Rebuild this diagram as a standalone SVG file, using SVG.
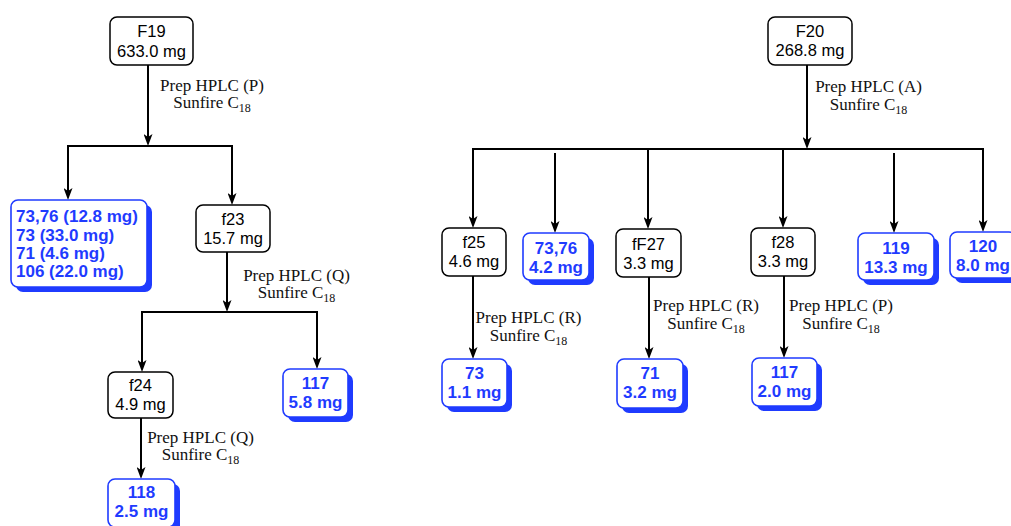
<svg xmlns="http://www.w3.org/2000/svg" width="1011" height="526" viewBox="0 0 1011 526">
<style>
  .bx { fill: #fff; stroke: #000; stroke-width: 1.5; }
  .bb { fill: #fff; stroke: #1f3bff; stroke-width: 1.6; }
  .sh { fill: #1f3bff; }
  .t { font-family: "Liberation Sans", Arial, sans-serif; font-size: 16.5px; text-anchor: middle; fill: #000; }
  .b { font-family: "Liberation Sans", Arial, sans-serif; font-size: 17px; font-weight: bold; text-anchor: middle; fill: #1f3bff; }
  .bl { text-anchor: start; }
  .lbl { font-family: "Liberation Serif", "Times New Roman", serif; font-size: 17px; text-anchor: middle; fill: #111; }
  .c line { stroke: #000; stroke-width: 2; fill: none; }
  .c line.a { marker-end: url(#ah); }
  .c line.h { stroke-linecap: square; }
</style>
<defs>
  <marker id="ah" viewBox="0 0 12 9" refX="4" refY="4.5" markerWidth="12" markerHeight="9" markerUnits="userSpaceOnUse" orient="auto">
    <path d="M0,0 L12,4.5 L0,9 L3,4.5 Z" fill="#000"/>
  </marker>
</defs>
<rect width="1011" height="526" fill="#fff"/>

<g id="connectors" class="c">
  <!-- left tree -->
  <line class="a" x1="148" y1="65" x2="148" y2="138"/>
  <line class="h" x1="68" y1="146" x2="232" y2="146"/>
  <line class="a" x1="68" y1="146" x2="68" y2="192"/>
  <line class="a" x1="232" y1="146" x2="232" y2="197"/>
  <line class="a" x1="227" y1="252" x2="227" y2="304"/>
  <line class="h" x1="142" y1="312" x2="317" y2="312"/>
  <line class="a" x1="142" y1="312" x2="142" y2="364"/>
  <line class="a" x1="317" y1="312" x2="317" y2="361"/>
  <line class="a" x1="141" y1="418" x2="141" y2="471"/>
  <!-- right tree -->
  <line class="a" x1="807" y1="65" x2="807" y2="141"/>
  <line class="h" x1="473" y1="149" x2="983" y2="149"/>
  <line class="a" x1="473" y1="149" x2="473" y2="220"/>
  <line class="a" x1="555" y1="153" x2="555" y2="225"/>
  <line class="a" x1="648" y1="149" x2="648" y2="221"/>
  <line class="a" x1="783" y1="149" x2="783" y2="220"/>
  <line class="a" x1="894" y1="153" x2="894" y2="225"/>
  <line class="a" x1="983" y1="149" x2="983" y2="224"/>
  <line class="a" x1="473" y1="276" x2="473" y2="351"/>
  <line class="a" x1="649" y1="277" x2="649" y2="351"/>
  <line class="a" x1="784" y1="276" x2="784" y2="350"/>
</g>

<g id="labels">
  <text class="lbl" x="212" y="90.5">Prep HPLC (P)</text>
  <text class="lbl" x="212" y="107.5">Sunfire C<tspan font-size="12" dy="4">18</tspan></text>
  <text class="lbl" x="296.5" y="281">Prep HPLC (Q)</text>
  <text class="lbl" x="296.5" y="298">Sunfire C<tspan font-size="12" dy="4">18</tspan></text>
  <text class="lbl" x="200.5" y="443">Prep HPLC (Q)</text>
  <text class="lbl" x="200.5" y="460">Sunfire C<tspan font-size="12" dy="4">18</tspan></text>
  <text class="lbl" x="868.5" y="92">Prep HPLC (A)</text>
  <text class="lbl" x="868.5" y="109.5">Sunfire C<tspan font-size="12" dy="4">18</tspan></text>
  <text class="lbl" x="528.5" y="323">Prep HPLC (R)</text>
  <text class="lbl" x="528.5" y="341">Sunfire C<tspan font-size="12" dy="4">18</tspan></text>
  <text class="lbl" x="706" y="310.5">Prep HPLC (R)</text>
  <text class="lbl" x="706" y="328.5">Sunfire C<tspan font-size="12" dy="4">18</tspan></text>
  <text class="lbl" x="841" y="310.5">Prep HPLC (P)</text>
  <text class="lbl" x="841" y="328.5">Sunfire C<tspan font-size="12" dy="4">18</tspan></text>
</g>

<g id="F19">
  <rect class="bx" x="110" y="17" width="83" height="48" rx="7"/>
  <text class="t" x="151.5" y="37">F19</text>
  <text class="t" x="151.5" y="56.5">633.0 mg</text>
</g>
<g id="mix19">
  <rect class="sh" x="16" y="205" width="136" height="87" rx="7"/>
  <rect class="bb" x="11" y="200" width="136" height="87" rx="7"/>
  <text class="b bl" x="16" y="222">73,76 (12.8 mg)</text>
  <text class="b bl" x="16" y="240.5">73 (33.0 mg)</text>
  <text class="b bl" x="16" y="259">71 (4.6 mg)</text>
  <text class="b bl" x="16" y="277">106 (22.0 mg)</text>
</g>
<g id="f23">
  <rect class="bx" x="196" y="205" width="74" height="47" rx="7"/>
  <text class="t" x="233" y="225">f23</text>
  <text class="t" x="233" y="243.5">15.7 mg</text>
</g>
<g id="f24">
  <rect class="bx" x="108" y="372" width="65" height="46" rx="7"/>
  <text class="t" x="140.5" y="391">f24</text>
  <text class="t" x="140.5" y="409.5">4.9 mg</text>
</g>
<g id="c117a">
  <rect class="sh" x="288" y="374" width="65" height="48" rx="7"/>
  <rect class="bb" x="283" y="369" width="65" height="48" rx="7"/>
  <text class="b" x="315.5" y="389">117</text>
  <text class="b" x="315.5" y="407.5">5.8 mg</text>
</g>
<g id="c118">
  <rect class="sh" x="113" y="484" width="67" height="48" rx="7"/>
  <rect class="bb" x="108" y="479" width="67" height="48" rx="7"/>
  <text class="b" x="141.5" y="498">118</text>
  <text class="b" x="141.5" y="517">2.5 mg</text>
</g>

<g id="F20">
  <rect class="bx" x="768" y="17" width="84" height="48" rx="7"/>
  <text class="t" x="810" y="37">F20</text>
  <text class="t" x="810" y="56">268.8 mg</text>
</g>
<g id="f25">
  <rect class="bx" x="442" y="228" width="64" height="48" rx="7"/>
  <text class="t" x="474" y="248">f25</text>
  <text class="t" x="474" y="267">4.6 mg</text>
</g>
<g id="c7376">
  <rect class="sh" x="528" y="238" width="66" height="47" rx="7"/>
  <rect class="bb" x="523" y="233" width="66" height="47" rx="7"/>
  <text class="b" x="556" y="254">73,76</text>
  <text class="b" x="556" y="273">4.2 mg</text>
</g>
<g id="fF27">
  <rect class="bx" x="616" y="229" width="65" height="48" rx="7"/>
  <text class="t" x="648.5" y="250">fF27</text>
  <text class="t" x="648.5" y="268.5">3.3 mg</text>
</g>
<g id="f28">
  <rect class="bx" x="751" y="228" width="64" height="48" rx="7"/>
  <text class="t" x="783" y="248">f28</text>
  <text class="t" x="783" y="267">3.3 mg</text>
</g>
<g id="c119">
  <rect class="sh" x="863" y="238" width="76" height="47" rx="7"/>
  <rect class="bb" x="858" y="233" width="76" height="47" rx="7"/>
  <text class="b" x="896" y="254">119</text>
  <text class="b" x="896" y="273">13.3 mg</text>
</g>
<g id="c120">
  <rect class="sh" x="955" y="237" width="66" height="46" rx="7"/>
  <rect class="bb" x="950" y="232" width="66" height="46" rx="7"/>
  <text class="b" x="983" y="252">120</text>
  <text class="b" x="983" y="270.5">8.0 mg</text>
</g>
<g id="c73">
  <rect class="sh" x="447" y="364" width="65" height="48" rx="7"/>
  <rect class="bb" x="442" y="359" width="65" height="48" rx="7"/>
  <text class="b" x="474.5" y="379">73</text>
  <text class="b" x="474.5" y="398">1.1 mg</text>
</g>
<g id="c71">
  <rect class="sh" x="622" y="364" width="66" height="49" rx="7"/>
  <rect class="bb" x="617" y="359" width="66" height="49" rx="7"/>
  <text class="b" x="650" y="379">71</text>
  <text class="b" x="650" y="398">3.2 mg</text>
</g>
<g id="c117b">
  <rect class="sh" x="757" y="363" width="65" height="48" rx="7"/>
  <rect class="bb" x="752" y="358" width="65" height="48" rx="7"/>
  <text class="b" x="784.5" y="378">117</text>
  <text class="b" x="784.5" y="397">2.0 mg</text>
</g>
</svg>
